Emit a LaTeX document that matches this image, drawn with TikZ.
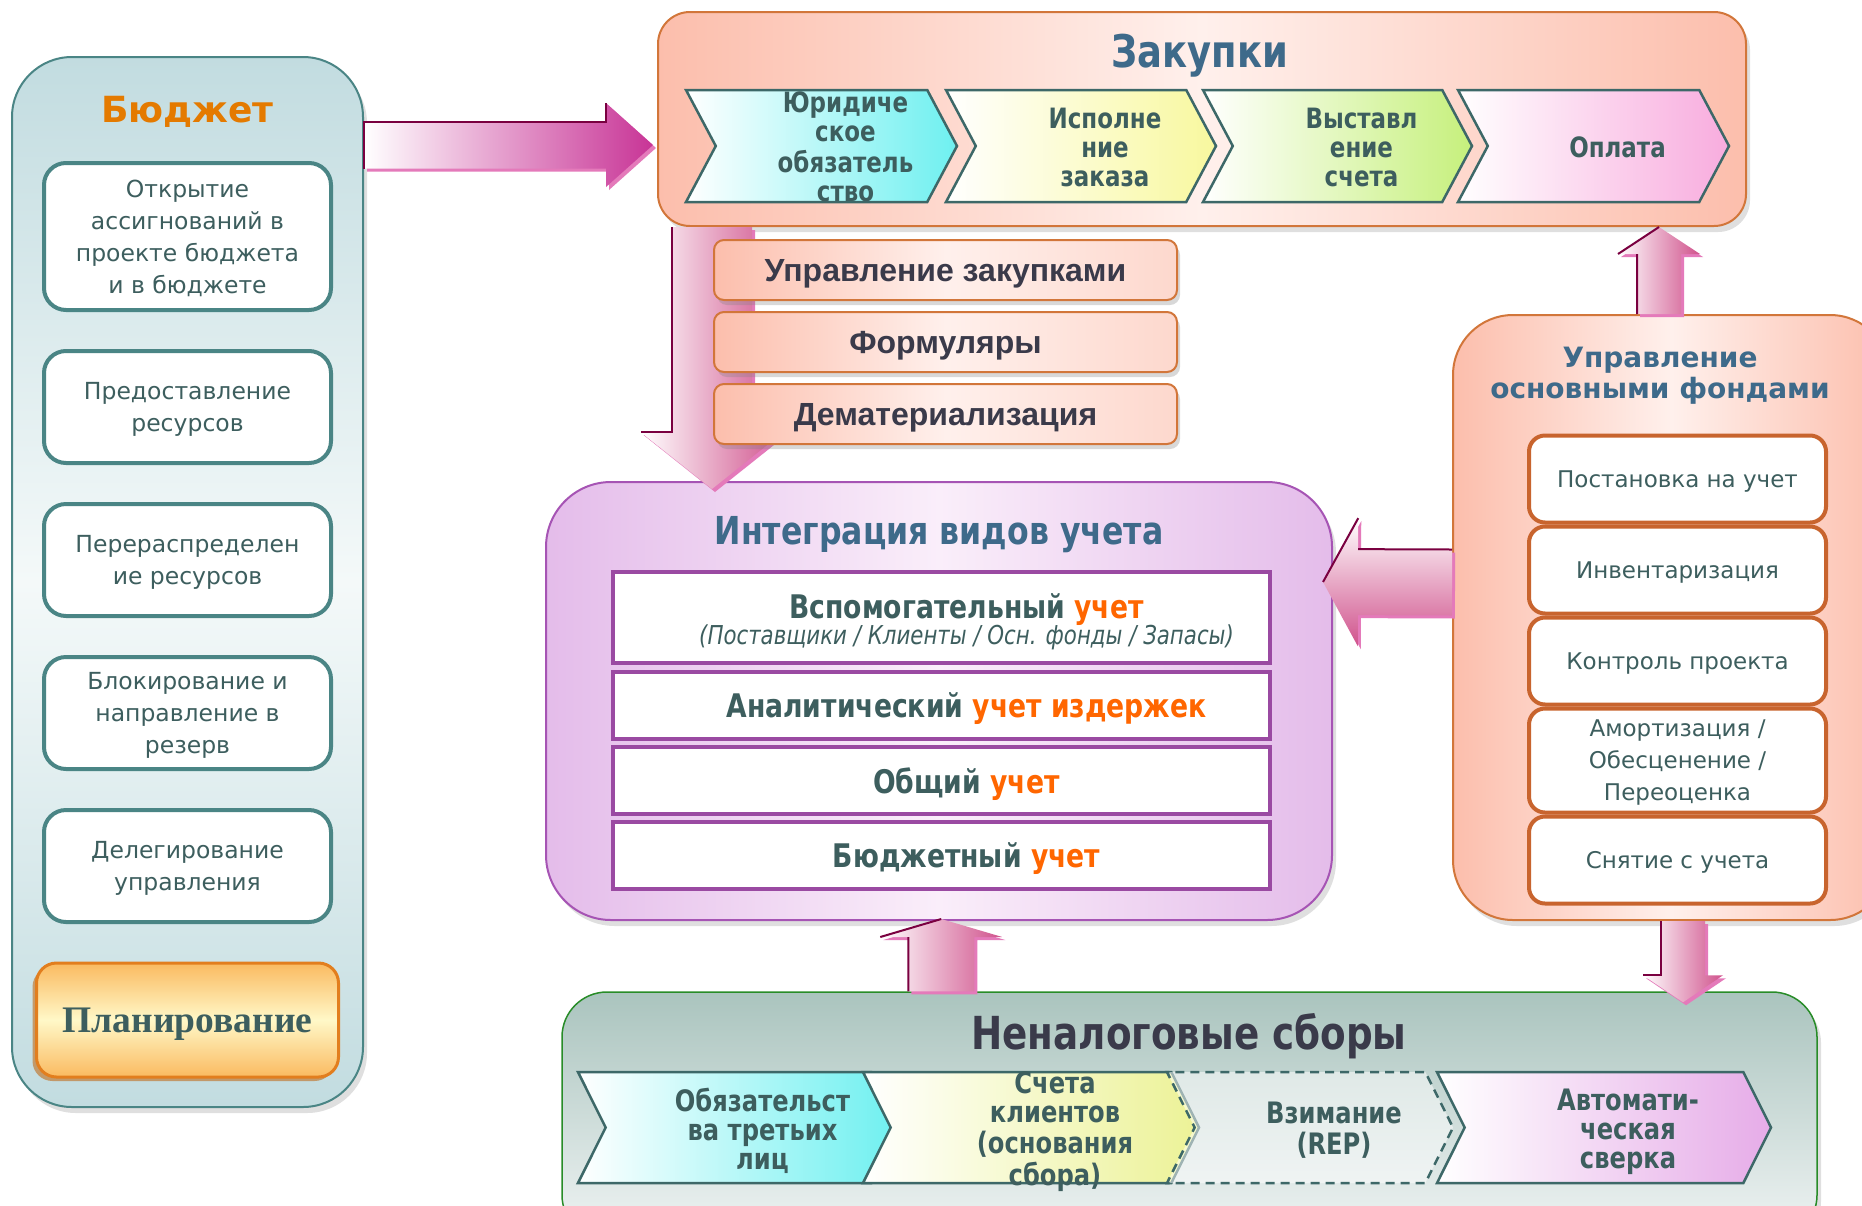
\documentclass[tikz,border=0pt]{standalone}
\usepackage{fontspec}
\setmainfont{DejaVu Sans}
\newfontfamily\narrowf[FakeStretch=0.82]{DejaVu Sans}
\newfontfamily\arialf{Liberation Sans}
\newfontfamily\timesf{Liberation Serif}
\usetikzlibrary{calc,positioning,shadows,shapes.symbols}

\definecolor{txt}{RGB}{61,94,94}
\definecolor{ttlblue}{RGB}{62,106,138}
\definecolor{ornge}{RGB}{255,102,0}
\definecolor{budorange}{RGB}{228,122,0}
\definecolor{darktxt}{RGB}{58,58,74}
\definecolor{budfill}{RGB}{194,220,224}
\definecolor{budmid}{RGB}{244,249,249}
\definecolor{budline}{RGB}{74,133,133}
\definecolor{salmon}{RGB}{252,190,172}
\definecolor{salmid}{RGB}{255,240,236}
\definecolor{salline}{RGB}{210,118,58}
\definecolor{faline}{RGB}{200,100,46}
\definecolor{purp}{RGB}{228,188,234}
\definecolor{purpmid}{RGB}{250,238,250}
\definecolor{purpline}{RGB}{166,84,180}
\definecolor{intline}{RGB}{154,74,162}
\definecolor{chevline}{RGB}{61,104,104}
\definecolor{cyanc}{RGB}{110,240,240}
\definecolor{yelc}{RGB}{248,248,158}
\definecolor{yelc2}{RGB}{236,242,150}
\definecolor{grnc}{RGB}{198,240,124}
\definecolor{pinkc}{RGB}{248,172,222}
\definecolor{lilac}{RGB}{230,172,232}
\definecolor{nntop}{RGB}{170,196,190}
\definecolor{nnbot}{RGB}{240,244,244}
\definecolor{nnline}{RGB}{40,140,40}
\definecolor{planfill}{RGB}{250,186,96}
\definecolor{planmid}{RGB}{255,248,200}
\definecolor{planline}{RGB}{226,126,30}
\definecolor{arrpink}{RGB}{208,82,140}
\definecolor{arrmag}{RGB}{200,52,150}
\definecolor{arrshadow}{RGB}{228,122,186}
\definecolor{maroon}{RGB}{122,0,64}

\newcommand\acc[1]{\textcolor{ornge}{#1}}
\newcommand\chevtext[1]{\hspace*{48pt}\raisebox{-11.5pt}{\begin{tabular}{@{}c@{}}#1\end{tabular}}}
\newcommand\inttext[1]{\hspace*{50pt}#1}

% block arrow: from, to, shaft half width, head half width, head length, shading
\newcommand\barrow[6]{%
  \coordinate (ba-h) at ($(#2)!#5!(#1)$);
  \coordinate (ba-1) at ($(#1)!#3!90:(#2)$);
  \coordinate (ba-2) at ($(ba-h)!#3!-90:(#1)$);
  \coordinate (ba-3) at ($(ba-h)!#4!-90:(#1)$);
  \coordinate (ba-4) at ($(ba-h)!#4!90:(#1)$);
  \coordinate (ba-5) at ($(ba-h)!#3!90:(#1)$);
  \coordinate (ba-6) at ($(#1)!#3!-90:(#2)$);
  \fill[pilshadow] (ba-1) -- (ba-2) -- (ba-3) -- (#2) -- (ba-4) -- (ba-5) -- (ba-6) -- cycle;
  \shade[#6] (ba-1) -- (ba-2) -- (ba-3) -- (#2) -- (ba-4) -- (ba-5) -- (ba-6) -- cycle;
}

\tikzset{
    % panels
    panel/.style={
           rectangle,
           draw, line width=2pt,
           drop shadow={opacity=.25, shadow xshift=4pt, shadow yshift=-6pt}},
    budpanel/.style={
           panel, draw=budline, rounded corners=60pt,
           top color=budfill, bottom color=budfill, middle color=budmid,
           minimum width=351pt, minimum height=1050pt},
    zakpanel/.style={
           panel, draw=salline, rounded corners=32pt,
           left color=salmon, right color=salmon, middle color=salmid,
           minimum width=1088pt, minimum height=214pt},
    intpanel/.style={
           panel, draw=purpline, rounded corners=65pt,
           left color=purp, right color=purp, middle color=purpmid,
           minimum width=786pt, minimum height=438pt},
    fapanel/.style={
           panel, draw=salline, rounded corners=60pt,
           left color=salmon, right color=salmon, middle color=salmid,
           minimum width=437pt, minimum height=605pt},
    nnpanel/.style={
           panel, draw=nnline, line width=1.5pt, rounded corners=45pt,
           top color=nntop, bottom color=nnbot,
           minimum width=1255pt, minimum height=248pt},
    % titles
    budtitle/.style={text=budorange, font=\bfseries\fontsize{36}{40}\selectfont},
    zaktitle/.style={text=ttlblue, font=\narrowf\bfseries\fontsize{45}{48}\selectfont},
    inttitle/.style={text=ttlblue, font=\narrowf\bfseries\fontsize{38.5}{42}\selectfont},
    fatitle/.style={align=center, text=ttlblue, font=\bfseries\fontsize{28}{31}\selectfont},
    nntitle/.style={text=darktxt, font=\narrowf\bfseries\fontsize{45.5}{48}\selectfont},
    % boxes
    budbox/.style={
           rectangle, rounded corners=22pt,
           draw=budline, line width=4pt, fill=white,
           outer sep=0pt,
           minimum width=287pt, minimum height=112pt,
           align=center, text=txt, text depth=0pt,
           font=\fontsize{23.5}{32}\selectfont},
    planbox/.style={
           rectangle, rounded corners=20pt,
           draw=planline, line width=3pt,
           top color=planfill, bottom color=planfill, middle color=planmid,
           outer sep=0pt,
           minimum width=302pt, minimum height=114pt,
           text=txt, text depth=0pt, font=\timesf\bfseries\fontsize{37.5}{40}\selectfont,
           drop shadow={shadow xshift=-4pt, shadow yshift=-4pt, fill=planline!85!black, opacity=.6}},
    chev/.style={
           signal, signal to=east, signal from=west, signal pointer angle=124,
           draw=chevline, line width=2.5pt,
           minimum height=112pt, inner sep=0pt, outer sep=0pt,
           text height=0pt, text depth=0pt,
           text=txt, font=\narrowf\bfseries\fontsize{28}{29}\selectfont},
    nnchev/.style={
           chev, signal pointer angle=127, minimum height=111pt,
           font=\narrowf\bfseries\fontsize{29.5}{29}\selectfont},
    salbox/.style={
           rectangle, rounded corners=10pt,
           draw=salline, line width=2pt,
           left color=salmon, right color=salmon!60, middle color=salmid,
           outer sep=0pt,
           minimum width=463pt, minimum height=60pt,
           text=darktxt, text depth=0pt, font=\arialf\bfseries\fontsize{32}{34}\selectfont,
           drop shadow={opacity=.3, shadow xshift=3pt, shadow yshift=-5pt}},
    intbox/.style={
           rectangle, draw=intline, line width=4pt, fill=white,
           outer sep=0pt,
           minimum width=657pt, minimum height=67pt,
           text=txt,
           font=\narrowf\bfseries\fontsize{32.5}{34}\selectfont},
    intone/.style={intbox, text depth=0pt},
    fabox/.style={
           rectangle, rounded corners=16pt,
           draw=faline, line width=4pt, fill=white,
           outer sep=0pt,
           minimum width=297pt, minimum height=87pt,
           align=center, text=txt, text depth=0pt,
           font=\fontsize{23}{32}\selectfont},
    % arrows
    pil/.style={left color=white, right color=arrpink},
    pilv/.style={top color=white, bottom color=arrpink},
    pilshadow/.style={fill=arrshadow, transform canvas={shift={(3pt,-3pt)}}},
    pilline/.style={draw=maroon, line width=2pt}
}

\begin{document}
\begin{tikzpicture}[x=1pt, y=-1pt, node distance=41pt]
\clip (0,0) rectangle (1862,1205);
\fill[white] (0,0) rectangle (1862,1205);

% Budget
\node[budpanel] (bud) at (187.5,582) {};
\node[budtitle] (budT) at (187.5,112) {Бюджет};
\node[budbox, minimum height=147pt] (b1) at (187.5,236.5) {Открытие\\ассигнований в\\проекте бюджета\\и в бюджете};
\node[budbox, below=of b1] (b2) {Предоставление\\ресурсов};
\node[budbox, below=of b2] (b3) {Перераспределен\\ие ресурсов};
\node[budbox, below=of b3] (b4) {Блокирование и\\направление в\\резерв};
\node[budbox, below=of b4] (b5) {Делегирование\\управления};
\node[planbox, below=of b5] (plan) {Планирование};

% Purchases
\node[zakpanel] (zak) at (1202,119) {};
\node[zaktitle] (zakT) at (1200,56) {Закупки};
\node[chev, left color=white, right color=cyanc, minimum width=271pt] (z1) at (821.5,146) {\chevtext{Юридиче\\ское\\обязатель\\ство}};
\node[chev, left color=white, right color=yelc, minimum width=270pt] (z2) at (1081,146) {\chevtext{Исполне\\ние\\заказа}};
\node[chev, left color=white, right color=grnc, minimum width=269pt] (z3) at (1337.5,146) {\chevtext{Выставл\\ение\\счета}};
\node[chev, left color=white, right color=pinkc, minimum width=271pt] (z4) at (1593.5,146) {\chevtext{Оплата}};

% Integration
\node[intpanel] (int) at (939,701) {};
\node[inttitle] (intT) at (939,535) {Интеграция видов учета};
\node[intbox, minimum height=91pt, text height=0pt, text depth=0pt] (i1) at (941.5,617.5) {\inttext{\raisebox{-13pt}{\begin{tabular}{@{}c@{}}Вспомогательный \acc{учет}\\[-8pt]
  {\mdseries\itshape\fontsize{26}{28}\selectfont (Поставщики / Клиенты / Осн. фонды / Запасы)}\end{tabular}}}};
\node[intone, below=9pt of i1] (i2) {\inttext{Аналитический \acc{учет издержек}}};
\node[intone, below=8pt of i2] (i3) {\inttext{Общий \acc{учет}}};
\node[intone, below=8pt of i3] (i4) {\inttext{Бюджетный \acc{учет}}};

% Fixed assets
\node[fapanel] (fa) at (1671.5,617.5) {};
\node[fatitle] (faT) at (1660,376) {Управление\\основными фондами};
\node[fabox] (f1) at (1677.5,479) {Постановка на учет};
\node[fabox, below=4pt of f1] (f2) {Инвентаризация};
\node[fabox, below=4pt of f2] (f3) {Контроль проекта};
\node[fabox, below=4pt of f3, minimum height=104pt] (f4) {Амортизация /\\Обесценение /\\Переоценка};
\node[fabox, below=4pt of f4] (f5) {Снятие с учета};

% Non-tax collections
\node[nnpanel] (nn) at (1189.5,1116) {};
\node[nntitle] (nnT) at (1189,1036) {Неналоговые сборы};
\node[nnchev, left color=white, right color=cyanc, minimum width=321pt] (n1) at (738.5,1127.5) {\chevtext{Обязательст\\ва третьих\\лиц}};
\node[nnchev, left color=white, right color=yelc2, minimum width=336pt] (n2) at (1031,1127.5) {\chevtext{Счета\\клиентов\\(основания\\сбора)}};
\node[nnchev, fill=white, fill opacity=.5, text opacity=1, dash pattern=on 9pt off 6pt, minimum width=286pt] (n3) at (1310,1127.5) {\chevtext{Взимание\\(REP)}};
\node[nnchev, left color=white, right color=lilac, minimum width=334pt] (n4) at (1604,1127.5) {\chevtext{Автомати-\\ческая\\сверка}};

% budget -> purchases
\coordinate (a1s) at ($(bud.east |- zak.west)+(0,26)$);
\coordinate (a1e) at ($(zak.west)+(-4,26)$);
\barrow{a1s}{a1e}{23.5pt}{42pt}{47pt}{left color=white, right color=arrmag}
\draw[pilline] (ba-6) -- (ba-1) -- (ba-2) -- (ba-3);

% purchases -> integration
\coordinate (a2s) at ($(zak.south west)+(55,0)$);
\coordinate (a2e) at ($(int.north west)+(167,8)$);
\barrow{a2s}{a2e}{40pt}{71.5pt}{57pt}{pil}
\draw[pilline] (ba-6) -- (ba-5) -- (ba-4);

% fixed assets -> integration
\coordinate (a3s) at ($(fa.west)+(0,-35)$);
\coordinate (a3e) at ($(int.east)+(-10,-119)$);
\barrow{a3s}{a3e}{33pt}{64pt}{35pt}{pilv}
\draw[pilline] (ba-6) -- (ba-5) (ba-4) -- (a3e);

% fixed assets -> purchases
\coordinate (a4s) at ($(fa.north west)+(207,0)$);
\coordinate (a4e) at (a4s |- zak.south);
\barrow{a4s}{a4e}{22pt}{41pt}{27pt}{pil}
\draw[pilline] (ba-1) -- (ba-2) (ba-3) -- (a4e);

% non-tax -> integration
\coordinate (a5s) at ($(nn.north west)+(380,0)$);
\coordinate (a5e) at ($(a5s |- int.south)+(0,-2)$);
\barrow{a5s}{a5e}{33pt}{61pt}{18pt}{pil}
\draw[pilline] (ba-1) -- (ba-2) (ba-3) -- (a5e);

% fixed assets -> non-tax
\coordinate (a6s) at ($(fa.south west)+(231,0)$);
\coordinate (a6e) at ($(a6s |- nn.north)+(0,11)$);
\barrow{a6s}{a6e}{22pt}{40pt}{27pt}{pil}
\draw[pilline] (ba-6) -- (ba-5) -- (ba-4);

% purchase tools
\node[salbox] (m1) at (945.5,270) {Управление закупками};
\node[salbox, below=12pt of m1] (m2) {Формуляры};
\node[salbox, below=12pt of m2] (m3) {Дематериализация};
\end{tikzpicture}
\end{document}
